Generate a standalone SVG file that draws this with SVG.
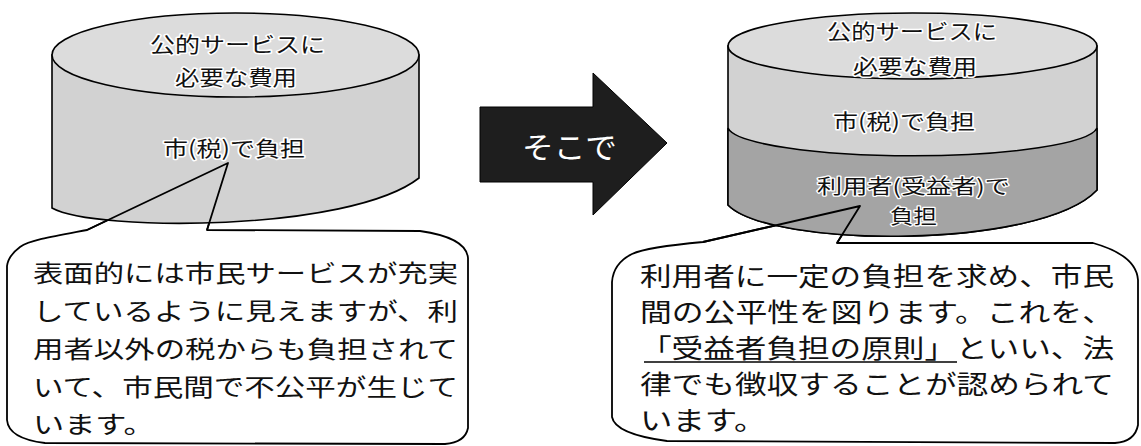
<svg xmlns="http://www.w3.org/2000/svg" width="1141" height="446" viewBox="0 0 1141 446">
<style>
.cyl{fill:#d2d2d2;stroke:#000;stroke-width:1.6}
.top{fill:#dcdcdc;stroke:#000;stroke-width:1.6}
.dark{fill:#a4a4a4;stroke:#000;stroke-width:1.6}
.call{fill:#fff;stroke:#000;stroke-width:1.8;stroke-linejoin:round}
.tail{fill:none;stroke:#000;stroke-width:1.8;stroke-linejoin:round}
.ct{font-family:"Noto Sans CJK JP","Noto Sans CJK SC",sans-serif;font-size:21px;fill:#111;stroke:#fff;stroke-width:3;paint-order:stroke;stroke-linejoin:round}
.cs{font-family:"Noto Sans CJK JP","Noto Sans CJK SC",sans-serif;font-size:20px;fill:#111;stroke:#fff;stroke-width:2.5;paint-order:stroke;stroke-linejoin:round}
.lt{font-family:"Noto Sans CJK JP","Noto Sans CJK SC",sans-serif;font-size:24px;fill:#111}
.rt{font-family:"Noto Sans CJK JP","Noto Sans CJK SC",sans-serif;font-size:26px;fill:#111}
.at{font-family:"Noto Sans CJK JP","Noto Sans CJK SC",sans-serif;font-size:30px;fill:#fff}
</style>

<g id="left-callout">
  <path class="call" d="M87,230 C55,236 30,240 20,247 C12,253 8,258 7,266 L7,420 C8,432 20,440 45,443 L445,444 C458,443 466,438 468,428 L468,258 C467,246 455,236 420,231 L207,230 L228,163 Z"/>
</g>

<g id="left-cylinder">
  <path class="cyl" d="M52,55 L52,208 C95,232 350,232 419,178 L419,55 Z"/>
  <ellipse class="top" cx="235.5" cy="55" rx="183.5" ry="42"/>
  <text class="ct" x="150" y="52" textLength="175" lengthAdjust="spacingAndGlyphs">公的サービスに</text>
  <text class="ct" x="175" y="85" textLength="122" lengthAdjust="spacingAndGlyphs">必要な費用</text>
  <text class="ct" x="163" y="156" textLength="142" lengthAdjust="spacingAndGlyphs">市(税)で負担</text>
</g>

<g id="left-callout-text">
  <path class="tail" d="M87,230 L228,163 L207,230"/>
  <text class="lt" x="33" y="282" textLength="425" lengthAdjust="spacingAndGlyphs">表面的には市民サービスが充実</text>
  <text class="lt" x="33" y="320" textLength="425" lengthAdjust="spacingAndGlyphs">しているように見えますが、利</text>
  <text class="lt" x="33" y="358" textLength="425" lengthAdjust="spacingAndGlyphs">用者以外の税からも負担されて</text>
  <text class="lt" x="33" y="396" textLength="425" lengthAdjust="spacingAndGlyphs">いて、市民間で不公平が生じて</text>
  <text class="lt" x="33" y="433" textLength="121.6" lengthAdjust="spacingAndGlyphs">います。</text>
</g>

<g id="connectors">
  <g id="arrow">
    <polygon points="480,107 593,107 593,73 667,143 593,215 593,182 480,182" fill="#1e1e1e" stroke="#000" stroke-width="1"/>
    <text class="at" x="522" y="158" textLength="95" lengthAdjust="spacingAndGlyphs">そこで</text>
  </g>
</g>

<g id="right-callout">
  <path class="call" d="M703,242 C670,245 645,248 632,254 C620,260 613,268 612,282 L612,417 C614,428 630,436 667,441 L1115,443 C1128,442 1136,436 1138,425 L1138,280 C1137,265 1125,252 1093,243 L837,243 L860,206 Z"/>
</g>

<g id="right-cylinder">
  <path class="cyl" d="M728,46 L728,205 C770,248 1040,250 1097,190 L1097,46 Z"/>
  <path class="dark" d="M728,128 A185,30 0 0 0 1097,128 L1097,190 C1040,250 770,248 728,205 Z"/>
  <ellipse class="top" cx="912.5" cy="46" rx="184.5" ry="33"/>
  <text class="ct" x="827" y="38.5" textLength="170" lengthAdjust="spacingAndGlyphs">公的サービスに</text>
  <text class="ct" x="853" y="73.5" textLength="124" lengthAdjust="spacingAndGlyphs">必要な費用</text>
  <text class="ct" x="833" y="128.5" textLength="142" lengthAdjust="spacingAndGlyphs">市(税)で負担</text>
  <text class="cs" x="817" y="194" textLength="193" lengthAdjust="spacingAndGlyphs">利用者(受益者)で</text>
  <text class="cs" x="890" y="224" textLength="47" lengthAdjust="spacingAndGlyphs">負担</text>
</g>

<g id="right-callout-text">
  <path class="tail" d="M703,242 L860,206 L837,243"/>
  <text class="rt" x="640" y="286" textLength="474" lengthAdjust="spacingAndGlyphs">利用者に一定の負担を求め、市民</text>
  <text class="rt" x="640" y="322" textLength="474" lengthAdjust="spacingAndGlyphs">間の公平性を図ります。これを、</text>
  <text class="rt" x="640" y="358" textLength="474" lengthAdjust="spacingAndGlyphs">「受益者負担の原則」といい、法</text>
  <line x1="644" y1="362" x2="957" y2="362" stroke="#000" stroke-width="1.5"/>
  <text class="rt" x="640" y="394" textLength="474" lengthAdjust="spacingAndGlyphs">律でも徴収することが認められて</text>
  <text class="rt" x="640" y="430" textLength="126.4" lengthAdjust="spacingAndGlyphs">います。</text>
</g>
</svg>
